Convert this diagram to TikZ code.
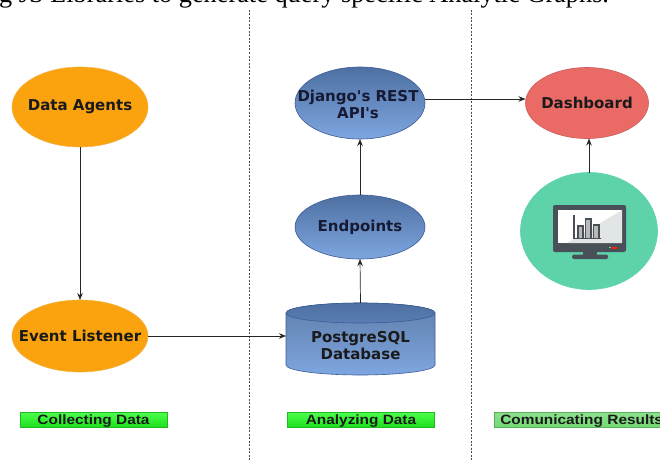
\documentclass[tikz,border=0pt]{standalone}
\usepackage{fontspec}
\setmainfont{Liberation Serif}
\newfontfamily\nodefont{DejaVu Sans}
\newfontfamily\lblfont[FakeStretch=1.14]{Liberation Sans}
\usetikzlibrary{arrows.meta,shapes.geometric}
\definecolor{orangefill}{HTML}{FAA30F}
\definecolor{orangeline}{HTML}{F2B24A}
\definecolor{bluetop}{HTML}{4E70A2}
\definecolor{bluebot}{HTML}{7EA6E0}
\definecolor{blueline}{HTML}{3A5C95}
\definecolor{redfill}{HTML}{EA6B66}
\definecolor{redline}{HTML}{CC5F5B}
\definecolor{tealfill}{HTML}{5ED3AA}
\definecolor{greentop}{HTML}{4DFF4D}
\definecolor{greenbot}{HTML}{1EE01E}
\definecolor{greenline}{HTML}{22B822}
\definecolor{dullgreen}{HTML}{72D972}
\definecolor{monframe}{HTML}{4A5058}
\definecolor{monlight}{HTML}{E2E5E5}
\definecolor{txtdark}{HTML}{1A1A1A}
\definecolor{txtnavy}{HTML}{161A33}
\tikzset{
  ell/.style={ellipse, inner sep=0pt, outer sep=0pt, line width=0.6pt},
  ntext/.style={font=\nodefont\bfseries\fontsize{15}{17}\selectfont, align=center, inner sep=0pt},
  orangeell/.style={ell, fill=orangefill, draw=orangeline},
  blueell/.style={ell, top color=bluetop, bottom color=bluebot, draw=blueline},
  arr/.style={-{Stealth[length=7pt,width=5.5pt]}, line width=0.7pt, draw=black!85},
  sep/.style={draw=black!70, line width=0.6pt, dash pattern=on 2pt off 1.5pt},
  lbl/.style={minimum width=147pt, minimum height=15pt, inner sep=0pt, line width=0.6pt,
    text height=9.7pt, text depth=0pt,
    top color=greentop, bottom color=greenbot, draw=greenline,
    font=\lblfont\bfseries\fontsize{13.5}{14}\selectfont, text=txtdark},
}
\begin{document}
\begin{tikzpicture}[x=1pt,y=-1pt]
\useasboundingbox (0,0) rectangle (660,460);
\clip (0,0) rectangle (660,460);

% clipped caption at top
\node[anchor=base west, inner sep=0pt, font=\fontsize{26.3}{28}\selectfont] (cap) at (-1,2.3)
  {g JS Libraries to generate query specific Analytic Graphs.};

% separators
\coordinate (s1t) at (249.5,10);
\coordinate (s1b) at (249.5,460);
\coordinate (s2t) at (471.5,10);
\coordinate (s2b) at (471.5,460);
\draw[sep] (s1t) -- (s1b);
\draw[sep] (s2t) -- (s2b);

% column 1
\node[orangeell, minimum width=136pt, minimum height=80pt,
      label={[ntext, text=txtdark]center:Data Agents}] (agents) at (80,107) {};
\node[orangeell, minimum width=136pt, minimum height=72pt,
      label={[ntext, text=txtdark]center:Event Listener}] (listener) at (80,336) {};

% column 2
\node[blueell, minimum width=130pt, minimum height=72pt,
      label={[ntext, text=txtnavy, xshift=-2pt, yshift=-1.5pt]center:Django's REST\\API's}] (django) at (360,103) {};
\node[blueell, minimum width=130pt, minimum height=64pt,
      label={[ntext, text=txtnavy]center:Endpoints}] (endpoints) at (360,227) {};

% cylinder
\shade[top color=bluetop!90!white, bottom color=bluebot, draw=blueline, line width=0.6pt]
  (286,313) -- (286,365) arc[start angle=180, end angle=360, x radius=74.5pt, y radius=10pt]
  -- (435,313) arc[start angle=0, end angle=180, x radius=74.5pt, y radius=10pt] -- cycle;
\shade[top color=bluetop, bottom color=bluetop!75!bluebot, draw=blueline, line width=0.6pt]
  (360.5,313) ellipse[x radius=74.5pt, y radius=10pt];
\node[ntext, text=txtdark] (db) at (360.5,346) {PostgreSQL\\Database};
\coordinate (dbin) at (286,336);
\coordinate (dbtop) at (360.5,303);

% column 3
\node[ell, fill=redfill, draw=redline, minimum width=123pt, minimum height=71pt,
      label={[ntext, text=txtdark]center:Dashboard}] (dashboard) at (587,103) {};
\node[ell, fill=tealfill, draw=tealfill, minimum width=137pt, minimum height=117pt] (viz) at (589,231) {};

% monitor icon
\fill[monframe, rounded corners=2pt] (553,205) rectangle (626,252);
\fill[white] (558,210) rectangle (622,243);
\fill[monlight] (622,210) -- (622,243) -- (567,243) -- cycle;
\fill[monframe] (583,252) rectangle (597,255.5);
\fill[monframe, rounded corners=1.5pt] (572,254.5) rectangle (608,259);
\fill[red!75!orange] (612,246.5) rectangle (617,248.5);
\fill[gray!60] (608.5,246.8) rectangle (610.5,248.2);
\draw[monframe, line width=1.3pt] (574,215) -- (574,238.5) -- (601,238.5);
\draw[monframe, fill=gray!55, line width=1.2pt] (578,238.5) rectangle (583,226);
\draw[monframe, fill=gray!55, line width=1.2pt] (585.5,238.5) rectangle (591,219);
\draw[monframe, fill=gray!55, line width=1.2pt] (593.5,238.5) rectangle (599,225);

% connectors
\draw[arr] (agents.south) -- (listener.north);
\draw[arr] (listener.east) -- (dbin);
\draw[arr] (dbtop) -- (endpoints.south);
\draw[arr] (endpoints.north) -- (django.south);
\draw[arr] ([yshift=4pt]django.east) -- ([yshift=4pt]dashboard.west);
\draw[arr] (viz.north) -- (viz.north |- dashboard.south);

% column labels
\node[lbl] (l1) at (93.5,419.5) {Collecting Data};
\node[lbl] (l2) at (361,419.5) {Analyzing Data};
\node[lbl, minimum width=180pt, top color=dullgreen!80!white, bottom color=dullgreen, draw=dullgreen!80!black,
      anchor=west, text width=176pt, align=left] (l3) at (494,419.5) {\hspace*{4pt}Comunicating Results};
\end{tikzpicture}
\end{document}
